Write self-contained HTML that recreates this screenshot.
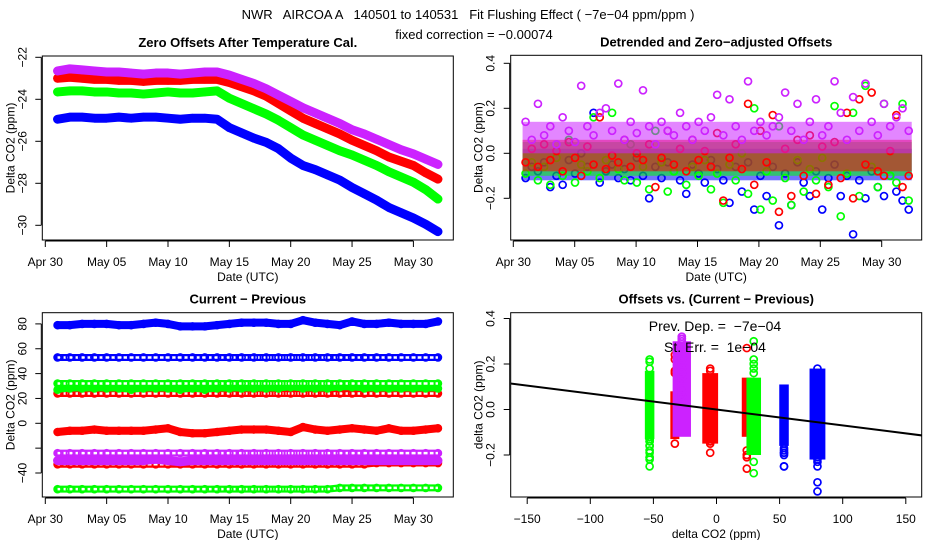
<!DOCTYPE html>
<html><head><meta charset="utf-8"><style>
html,body{margin:0;padding:0;background:#fff;}
svg{display:block;font-family:"Liberation Sans",sans-serif;}
text{white-space:pre;}
</style></head><body>
<svg id="c" width="936" height="540" viewBox="0 0 936 540" xmlns="http://www.w3.org/2000/svg">
<text x="468" y="19" font-size="13" text-anchor="middle">NWR   AIRCOA A   140501 to 140531   Fit Flushing Effect ( −7e−04 ppm/ppm )</text>
<text x="474" y="39" font-size="13" text-anchor="middle">fixed correction = −0.00074</text>
</svg>
<script>
// ---------- data ----------
const dateTickDays = [0,5,10,15,20,25,30];
const dateTickLabels = ["Apr 30","May 05","May 10","May 15","May 20","May 25","May 30"];
const zoPurple = [-22.65,-22.55,-22.6,-22.65,-22.7,-22.7,-22.75,-22.8,-22.75,-22.75,-22.8,-22.75,-22.7,-22.7,-22.85,-23.05,-23.25,-23.5,-23.8,-24.1,-24.4,-24.65,-24.9,-25.15,-25.45,-25.65,-25.9,-26.15,-26.4,-26.6,-26.85,-27.1];
const zoRed = [-23.0,-22.95,-23.0,-23.05,-23.05,-23.1,-23.1,-23.15,-23.1,-23.1,-23.1,-23.05,-23.05,-23.05,-23.2,-23.4,-23.6,-23.85,-24.2,-24.55,-24.9,-25.15,-25.4,-25.65,-25.95,-26.2,-26.45,-26.75,-26.95,-27.15,-27.5,-27.8];
const zoGreen = [-23.65,-23.6,-23.6,-23.65,-23.65,-23.7,-23.7,-23.75,-23.7,-23.65,-23.7,-23.7,-23.65,-23.6,-23.95,-24.2,-24.45,-24.7,-25.0,-25.35,-25.7,-25.95,-26.2,-26.45,-26.65,-26.9,-27.15,-27.45,-27.7,-27.95,-28.3,-28.75];
const zoBlue = [-24.95,-24.85,-24.85,-24.9,-24.9,-24.85,-24.9,-24.85,-24.85,-24.9,-24.95,-24.9,-24.9,-24.95,-25.35,-25.6,-25.85,-26.05,-26.35,-26.8,-27.15,-27.35,-27.6,-27.85,-28.2,-28.5,-28.8,-29.15,-29.4,-29.65,-29.95,-30.3];
const zoTicks = [-22,-24,-26,-28,-30];
const dtBlue = [-0.11,-0.06,-0.08,-0.04,-0.15,-0.10,-0.14,-0.03,-0.09,0.00,-0.06,0.18,-0.13,-0.08,-0.05,-0.11,-0.07,-0.12,-0.02,-0.10,-0.20,-0.06,-0.11,-0.04,-0.08,-0.12,-0.18,-0.05,-0.09,-0.13,-0.03,-0.07,-0.12,-0.22,-0.06,-0.17,-0.04,-0.25,-0.10,-0.19,-0.06,-0.32,-0.09,-0.23,-0.04,-0.13,-0.19,-0.08,-0.25,-0.11,-0.05,-0.19,-0.10,-0.36,-0.12,-0.20,-0.08,-0.15,-0.19,-0.10,-0.17,-0.21,-0.25];
const dtGreen = [-0.09,-0.04,-0.12,-0.06,-0.14,-0.02,-0.10,0.06,-0.13,-0.05,-0.08,0.16,-0.11,-0.03,0.18,-0.07,-0.12,0.04,-0.13,-0.06,-0.16,0.10,-0.04,-0.17,-0.08,0.02,-0.14,-0.06,-0.10,-0.03,-0.16,-0.09,-0.22,-0.05,-0.12,0.00,-0.18,0.20,-0.25,-0.08,-0.21,0.12,-0.11,-0.23,-0.03,-0.17,-0.07,-0.12,-0.02,-0.15,0.21,-0.28,-0.09,0.18,-0.19,0.30,-0.06,-0.15,0.22,-0.10,-0.13,0.22,-0.21];
const dtRed = [-0.04,0.02,-0.06,0.04,-0.03,0.01,-0.08,0.05,-0.02,-0.10,0.03,-0.05,0.16,-0.07,-0.01,-0.04,0.06,-0.06,0.00,-0.03,0.04,-0.15,-0.02,0.10,-0.05,0.02,-0.08,0.06,-0.03,0.01,-0.06,0.09,-0.21,-0.02,0.04,-0.07,0.22,-0.14,0.10,-0.04,0.17,-0.26,0.02,-0.19,0.06,-0.10,0.08,-0.18,0.03,-0.14,0.05,-0.11,0.18,-0.20,0.24,-0.05,0.27,-0.08,-0.10,0.01,0.17,-0.15,-0.10];
const dtPurple = [0.14,0.06,0.22,0.08,0.12,0.04,0.16,0.10,0.05,0.30,0.12,0.08,0.18,0.20,0.10,0.31,0.06,0.14,0.09,0.28,0.12,0.04,0.14,0.10,0.08,0.18,0.12,0.06,0.14,0.10,0.16,0.26,0.08,0.24,0.12,0.06,0.32,0.10,0.14,0.08,0.12,0.16,0.27,0.10,0.22,0.06,0.14,0.24,0.08,0.12,0.32,0.18,0.06,0.25,0.10,0.31,0.14,0.08,0.22,0.12,0.16,0.20,0.10];
// dense core of each detrended series (lo, hi)
const dtCoreBlue = [-0.12,0.02];
const dtCoreGreen = [-0.10,0.05];
const dtCoreRed = [-0.08,0.06];
const dtCorePurple = [0.0,0.14];
const dtTicks = [0.4,0.2,0.0,-0.2];
const dtTickLabels = ["0.4","0.2","0.0","−0.2"];
const cpBlueHi = [79,79,80,80,80,79,79,80,81,80,78,78,78,79,80,81,81,81,80,80,83,81,80,79,82,80,80,81,80,80,80,82];
const cpBlueHollow = [53,53,53,53,53,53,53,53,53,53,53,53,53,53,53,53,53,53,53,53,53,53,53,53,53,53,53,53,53,53,53,53];
const cpGreenHollow = [32,32,32,32,32,32,32,32,32,32,32,32,32,32,32,32,32,32,32,32,32,32,32,32,32,32,32,32,32,32,32,32];
const cpGreenFilled = [27,28,28,28,28,28,27,28,28,28,27,28,27,28,28,28,28,28,28,29,28,28,28,29,29,28,28,28,28,28,28,28];
const cpRedHollow = [24,24,24,24,24,24,24,24,24,24,24,24,24,24,24,24,24,24,24,24,24,24,24,24,24,24,24,24,24,24,24,24];
const cpRedNoisy = [-7,-6,-6,-5,-6,-6,-6,-6,-5,-4,-7,-8,-8,-7,-6,-5,-5,-5,-6,-7,-3,-5,-6,-5,-4,-5,-6,-4,-6,-6,-5,-4];
const cpPurpleHollow = [-24,-24,-24,-24,-24,-24,-24,-24,-24,-24,-24,-24,-24,-24,-24,-24,-24,-24,-24,-24,-24,-24,-24,-24,-24,-24,-24,-24,-24,-24,-24,-24];
const cpPurpleFilled = [-30,-30,-30,-30,-30,-30,-30,-30,-29,-30,-31,-30,-30,-30,-30,-30,-30,-30,-30,-30,-30,-30,-30,-30,-30,-30,-30,-30,-30,-30,-30,-30];
const cpRedLow = [-33,-33,-33,-33,-33,-33,-33,-33,-33,-33,-33,-33,-33,-33,-33,-33,-33,-33,-33,-33,-33,-33,-33,-33,-33,-33,-32,-32,-32,-32,-32,-32];
const cpGreenLow = [-53,-53,-53,-53,-53,-53,-53,-53,-53,-53,-53,-53,-53,-53,-53,-53,-53,-53,-53,-53,-53,-53,-53,-52,-52,-52,-52,-52,-52,-52,-52,-52];
const cpTicks = [80,60,40,20,0,-20,-40];
const cpTickLabels = ["80","60","40","20","0","","−40"];
const clColor = ["red","red","red","purple","green","green","blue","blue"];
const clX = [-33,-5,24,-27.5,-53,29.5,53.5,80];
const clHalfW = [0.8,3.5,1.2,4.5,1,3,1,3.5];
const clLo = [-0.13,-0.15,-0.12,-0.12,-0.13,-0.2,-0.16,-0.22];
const clHi = [0.08,0.16,0.14,0.3,0.17,0.14,0.11,0.18];
const fitSlope = -0.0007;
const fitIntercept = 0.0;
const vsXTicks = [-150,-100,-50,0,50,100,150];
const vsXTickLabels = ["−150","−100","−50","0","50","100","150"];

// ---------- helpers ----------
const svg = document.getElementById('c');
const NS = "http://www.w3.org/2000/svg";
const COL = {blue:"#0000ff",green:"#00ff00",red:"#ff0000",purple:"#cc22ff"};
function mk(tag, attrs, parent){
  const e = document.createElementNS(NS, tag);
  for (const k in attrs) e.setAttribute(k, attrs[k]);
  (parent||svg).appendChild(e);
  return e;
}
function txt(x,y,s,size,anchor,rot,weight,parent){
  const t = mk('text',{x:x,y:y,'font-size':size,'text-anchor':anchor||'middle'},parent);
  if (rot) t.setAttribute('transform','rotate(-90 '+x+' '+y+')');
  if (weight) t.setAttribute('font-weight',weight);
  t.textContent = s;
  return t;
}
function panel(name, L, T, R, B){
  const g = mk('g',{});
  
  
  return {g:g,L:L,T:T,R:R,B:B};
}
function frame(p){
  const r = mk('rect',{x:p.L,y:p.T,width:p.R-p.L,height:p.B-p.T,fill:'none',stroke:'#000','stroke-width':1},p.g);
  
  
}
function xAxis(p, ticks, labels, sx, title){
  const g = mk('g',{},p.g);
  
  
  const y = p.B+1;
  mk('line',{x1:sx(ticks[0]),x2:sx(ticks[ticks.length-1]),y1:y,y2:y,stroke:'#000'},g);
  ticks.forEach((t,i)=>{
    const x = sx(t);
    mk('line',{x1:x,x2:x,y1:y,y2:y+6,stroke:'#000'},g);
    const l = txt(x,y+25,labels[i],12,'middle',false,null,g);
    
    
  });
  const tt = txt((p.L+p.R)/2, y+40, title, 12, 'middle', false, null, g);
  
  
}
function yAxis(p, ticks, labels, sy, title){
  const g = mk('g',{},p.g);
  
  
  const x = p.L-1;
  mk('line',{x1:x,x2:x,y1:sy(ticks[0]),y2:sy(ticks[ticks.length-1]),stroke:'#000'},g);
  ticks.forEach((t,i)=>{
    const y = sy(t);
    mk('line',{x1:x,x2:x-6,y1:y,y2:y,stroke:'#000'},g);
    if (labels[i]) {
      const l = txt(x-15,y,labels[i],12,'middle',true,null,g);
      
      
    }
  });
  const tt = txt(p.L-28,(p.T+p.B)/2,title,12,'middle',true,null,g);
  
  
}
function ptitle(p, s){
  const t = txt((p.L+p.R)/2, p.T-9, s, 13, 'middle', false, 'bold', p.g);
  
  
}
function band(p, vals, sx, sy, color, w, hollow, name){
  const g = mk('g',{},p.g);
  
  
  const pts = vals.map((v,i)=>sx(1+i)+','+sy(v)).join(' ');
  mk('polyline',{points:pts,fill:'none',stroke:color,'stroke-width':w,'stroke-linejoin':'round','stroke-linecap':'round'},g);
  if (hollow) mk('polyline',{points:pts,fill:'none',stroke:'#fff','stroke-width':w-4.5,'stroke-dasharray':'4 2'},g);
  vals.forEach((v,i)=>{
    const c = mk('circle',{cx:sx(1+i),cy:sy(v),r:3.5,fill:'none',stroke:color,'stroke-width':1.6},g);
    
    
  });
}
function clipFor(p, id){
  const cp = mk('clipPath',{id:id});
  mk('rect',{x:p.L,y:p.T,width:p.R-p.L,height:p.B-p.T},cp);
}

// ---------- panel 1 ----------
{
  const p = panel('zero-offsets-panel',42.3,56,453.3,240);
  const sx = d=>45.3+d*12.27;
  const sy = v=>57.3+(-22-v)*21;
  ptitle(p,'Zero Offsets After Temperature Cal.');
  band(p,zoBlue,sx,sy,COL.blue,9,false,'series-blue');
  band(p,zoGreen,sx,sy,COL.green,9,false,'series-green');
  band(p,zoRed,sx,sy,COL.red,9,false,'series-red');
  band(p,zoPurple,sx,sy,COL.purple,9,false,'series-purple');
  frame(p);
  xAxis(p,dateTickDays,dateTickLabels,sx,'Date (UTC)');
  yAxis(p,zoTicks,zoTicks.map(t=>String(t).replace('-','−')),sy,'Delta CO2 (ppm)');
}
// ---------- panel 2 ----------
{
  const p = panel('detrended-offsets-panel',510.7,55.3,921.7,240);
  const sx = d=>513.3+d*12.28;
  const sy = v=>153.3-225*v;
  ptitle(p,'Detrended and Zero−adjusted Offsets');
  [[dtBlue,dtCoreBlue,'blue'],[dtGreen,dtCoreGreen,'green'],[dtRed,dtCoreRed,'red'],[dtPurple,dtCorePurple,'purple']].forEach(([arr,core,c])=>{
    const g = mk('g',{},p.g);
    
    
    const cr = mk('rect',{x:sx(1)-3,y:sy(core[1]),width:sx(32.2)-sx(1)+6,height:sy(core[0])-sy(core[1]),fill:COL[c],opacity:0.55},g);
    
    
    const n = arr.length;
    arr.forEach((v,i)=>{
      const d = 1+i*31.2/(n-1);
      const ci = mk('circle',{cx:sx(d),cy:sy(v),r:3.5,fill:'none',stroke:COL[c],'stroke-width':1.7},g);
      
      
    });
  });
  frame(p);
  xAxis(p,dateTickDays,dateTickLabels,sx,'Date (UTC)');
  yAxis(p,dtTicks,dtTickLabels,sy,'Delta CO2 (ppm)');
}
// ---------- panel 3 ----------
{
  const p = panel('current-minus-previous-panel',42.3,312.7,453.3,497);
  const sx = d=>45.3+d*12.27;
  const sy = v=>423.3-v*1.2425;
  ptitle(p,'Current − Previous');
  band(p,cpGreenLow,sx,sy,COL.green,7,true,'series-green-low');
  band(p,cpRedLow,sx,sy,COL.red,7,true,'series-red-low');
  band(p,cpPurpleFilled,sx,sy,COL.purple,9,false,'series-purple-filled');
  band(p,cpPurpleHollow,sx,sy,COL.purple,7,true,'series-purple-hollow');
  band(p,cpRedNoisy,sx,sy,COL.red,8,false,'series-red-mid');
  band(p,cpRedHollow,sx,sy,COL.red,7,true,'series-red-hollow');
  band(p,cpGreenFilled,sx,sy,COL.green,6,false,'series-green-filled');
  band(p,cpGreenHollow,sx,sy,COL.green,7,true,'series-green-hollow');
  band(p,cpBlueHollow,sx,sy,COL.blue,7,true,'series-blue-hollow');
  band(p,cpBlueHi,sx,sy,COL.blue,8,false,'series-blue-high');
  frame(p);
  xAxis(p,dateTickDays,dateTickLabels,sx,'Date (UTC)');
  yAxis(p,cpTicks,cpTickLabels,sy,'Delta CO2 (ppm)');
}
// ---------- panel 4 ----------
{
  const p = panel('offsets-vs-difference-panel',510.7,312.7,921.7,497);
  const sx = v=>716.5+v*1.262;
  const sy = v=>409.5-v*227.5;
  ptitle(p,'Offsets vs. (Current − Previous)');
  const byColor = {blue:dtBlue,green:dtGreen,red:dtRed,purple:dtPurple};
  const clusterIdx = {};
  clColor.forEach((c,i)=>{(clusterIdx[c]=clusterIdx[c]||[]).push(i);});
  clColor.forEach((c,k)=>{
    const g = mk('g',{},p.g);
    
    
    const x0 = sx(clX[k]-clHalfW[k]) - 3.5, x1 = sx(clX[k]+clHalfW[k]) + 3.5;
    const r = mk('rect',{x:x0,y:sy(clHi[k]),width:x1-x0,height:sy(clLo[k])-sy(clHi[k]),fill:COL[c]},g);
    
    
    const mine = clusterIdx[c];
    const pos = mine.indexOf(k);
    byColor[c].forEach((v,i)=>{
      if (i % mine.length !== pos) return;
      const ci = mk('circle',{cx:sx(clX[k]),cy:sy(v),r:3.5,fill:'none',stroke:COL[c],'stroke-width':1.7},g);
      
      
    });
  });
  clipFor(p,'clip4');
  const fl = mk('line',{x1:sx(-165),y1:sy(fitIntercept+fitSlope*-165),x2:sx(165),y2:sy(fitIntercept+fitSlope*165),stroke:'#000','stroke-width':2,'clip-path':'url(#clip4)'},p.g);
  
  
  const t1 = txt(715,331,'Prev. Dep. =  −7e−04',14,'middle',false,null,p.g);
  
  
  const t2 = txt(715,352,'St. Err. =  1e−04',14,'middle',false,null,p.g);
  
  
  frame(p);
  xAxis(p,vsXTicks,vsXTickLabels,sx,'delta CO2 (ppm)');
  yAxis(p,dtTicks,dtTickLabels,sy,'delta CO2 (ppm)');
}
</script>
</body></html>
